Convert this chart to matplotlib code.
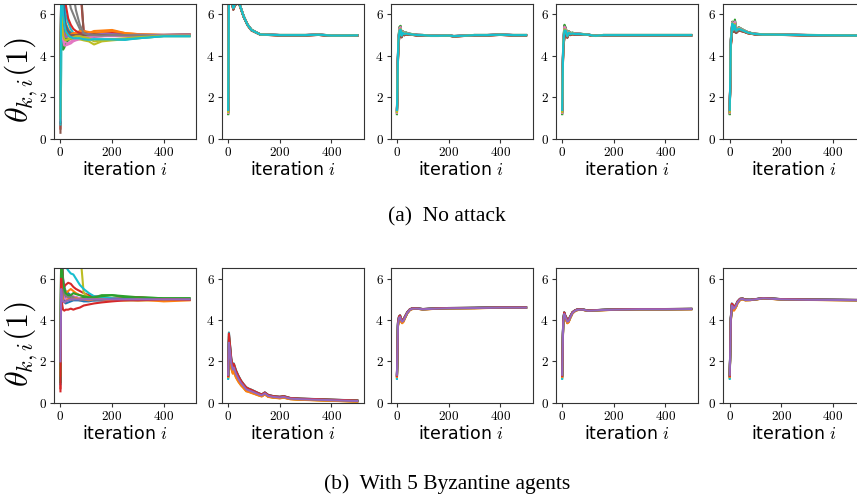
import numpy as np
import matplotlib
matplotlib.use("Agg")
import matplotlib.pyplot as plt

plt.rcParams["mathtext.fontset"] = "cm"
plt.rcParams["font.family"] = "DejaVu Sans"

colors = plt.rcParams["axes.prop_cycle"].by_key()["color"]

# ---------------------------------------------------------------- first column
# iterations at which the per-agent estimates are sampled
it_first = [0, 3, 6, 10, 15, 20, 30, 40, 50, 60, 75, 90, 110, 130, 160, 200, 250, 300, 400, 500]

# no attack, 20 agents (values above 6.5 leave the plot window)
agents_a = [
    [0.8, 8.0, 7.5, 6.8, 5.6, 5.2, 5.0, 4.9, 4.95, 5.0, 5.05, 5.0, 5.05, 5.1, 5.05, 5.0, 4.98, 5.0, 5.0, 5.0],
    [1.2, 7.0, 8.0, 7.0, 6.2, 5.6, 5.3, 5.1, 5.1, 5.05, 5.1, 5.15, 5.1, 5.2, 5.22, 5.25, 5.1, 5.05, 5.02, 5.05],
    [0.9, 6.0, 5.0, 4.3, 4.4, 4.6, 4.75, 4.85, 4.9, 4.95, 5.0, 5.0, 5.05, 5.0, 5.05, 5.1, 5.05, 5.0, 5.0, 5.02],
    [0.5, 8.0, 8.0, 8.0, 8.0, 8.0, 8.0, 8.0, 8.0, 8.0, 7.5, 5.2, 5.1, 5.05, 5.1, 5.15, 5.05, 5.0, 4.98, 5.0],
    [1.0, 7.0, 6.0, 5.0, 4.8, 4.75, 4.8, 4.85, 4.9, 5.0, 5.0, 5.05, 5.0, 5.1, 5.1, 5.05, 5.0, 5.0, 5.02, 5.05],
    [0.3, 8.0, 8.0, 8.0, 8.0, 8.0, 8.0, 8.0, 8.0, 8.0, 8.0, 5.1, 5.05, 5.0, 5.0, 5.05, 5.0, 5.0, 5.0, 5.0],
    [1.1, 6.5, 5.5, 4.7, 4.5, 4.5, 4.55, 4.6, 4.7, 4.75, 4.8, 4.85, 4.9, 4.9, 4.95, 4.95, 4.95, 4.97, 5.0, 5.0],
    [1.0, 8.0, 8.0, 8.0, 8.0, 8.0, 7.0, 6.3, 6.0, 5.7, 5.3, 5.0, 5.0, 4.95, 4.95, 5.0, 5.0, 5.0, 4.98, 4.98],
    [1.3, 7.5, 6.0, 5.2, 5.0, 4.9, 4.85, 4.8, 4.8, 4.85, 4.8, 4.75, 4.7, 4.55, 4.7, 4.75, 4.8, 4.85, 4.95, 4.95],
    [0.7, 3.3, 8.0, 7.5, 6.8, 6.0, 5.6, 5.3, 5.1, 5.0, 4.9, 4.85, 4.8, 4.8, 4.8, 4.8, 4.77, 4.85, 4.95, 4.95],
    [1.0, 8.0, 8.0, 7.0, 6.0, 5.5, 5.2, 5.1, 5.0, 5.0, 4.95, 5.0, 4.95, 4.95, 5.0, 5.0, 5.0, 5.0, 5.0, 5.0],
    [0.9, 7.5, 6.5, 5.5, 5.2, 5.0, 5.0, 5.05, 5.1, 5.1, 5.2, 5.2, 5.15, 5.1, 5.15, 5.2, 5.1, 5.05, 5.0, 5.02],
    [1.1, 8.0, 7.0, 5.8, 5.0, 4.8, 4.8, 4.85, 4.9, 4.95, 4.95, 4.95, 5.0, 5.0, 5.0, 5.0, 5.0, 5.0, 5.0, 5.0],
    [0.8, 8.0, 8.0, 8.0, 7.5, 6.5, 5.8, 5.5, 5.3, 5.2, 5.1, 5.05, 5.0, 5.0, 5.0, 5.0, 5.0, 5.0, 5.0, 5.0],
    [1.2, 7.0, 6.0, 5.3, 5.0, 4.9, 4.95, 5.0, 4.95, 4.95, 5.0, 5.05, 5.05, 5.0, 5.05, 5.05, 5.0, 5.02, 5.0, 5.0],
    [1.0, 8.0, 7.0, 6.0, 5.5, 5.3, 5.1, 5.0, 5.0, 5.0, 5.05, 5.0, 5.0, 5.05, 5.0, 5.0, 5.0, 5.0, 5.0, 5.0],
    [0.9, 6.0, 5.2, 4.8, 4.7, 4.65, 4.6, 4.7, 4.75, 4.8, 4.85, 4.9, 4.9, 4.95, 4.95, 4.97, 4.98, 5.0, 5.0, 5.0],
    [1.1, 8.0, 8.0, 8.0, 8.0, 8.0, 8.0, 8.0, 7.0, 6.2, 5.5, 5.1, 5.0, 5.0, 4.98, 5.0, 5.0, 5.0, 4.98, 4.98],
    [1.0, 7.0, 5.5, 5.0, 4.8, 4.75, 4.8, 4.85, 4.9, 4.95, 4.95, 4.9, 4.85, 4.7, 4.75, 4.8, 4.85, 4.9, 4.97, 4.97],
    [0.8, 8.0, 7.0, 6.0, 5.5, 5.2, 5.0, 4.9, 4.85, 4.85, 4.85, 4.8, 4.78, 4.8, 4.8, 4.8, 4.8, 4.85, 4.95, 4.95],
]

# with Byzantine agents, 15 normal agents
agents_b = [
    [1.0, 8.0, 7.0, 6.0, 5.6, 5.4, 5.3, 5.2, 5.1, 5.1, 5.05, 5.0, 5.0, 4.95, 5.0, 5.0, 5.0, 5.0, 5.0, 5.0],
    [1.5, 7.0, 6.5, 5.8, 5.5, 5.3, 5.4, 5.5, 5.4, 5.3, 5.2, 5.15, 5.1, 5.1, 5.05, 5.0, 5.0, 4.95, 4.95, 5.0],
    [1.2, 7.5, 6.0, 5.2, 5.0, 4.9, 5.0, 5.1, 5.0, 5.0, 5.05, 5.1, 5.15, 5.1, 5.2, 5.2, 5.15, 5.1, 5.05, 5.05],
    [0.55, 8.0, 6.5, 5.5, 5.6, 5.7, 5.8, 5.75, 5.6, 5.5, 5.4, 5.3, 5.2, 5.15, 5.1, 5.05, 5.05, 5.1, 5.0, 5.0],
    [2.0, 6.0, 5.5, 5.3, 5.2, 5.1, 5.0, 5.05, 5.1, 5.0, 5.0, 4.95, 4.95, 5.0, 5.0, 5.0, 4.98, 5.0, 5.0, 5.0],
    [1.3, 8.0, 7.0, 6.0, 5.4, 5.2, 5.1, 5.0, 5.0, 5.0, 4.95, 4.95, 4.95, 5.0, 5.0, 5.0, 5.0, 5.0, 4.98, 4.98],
    [1.6, 6.8, 5.8, 5.2, 5.0, 5.0, 5.1, 5.2, 5.15, 5.1, 5.05, 5.0, 5.0, 5.0, 5.0, 5.0, 5.0, 5.0, 5.0, 5.0],
    [1.1, 7.0, 6.2, 5.6, 5.3, 5.2, 5.1, 5.15, 5.1, 5.05, 5.0, 5.0, 5.0, 4.95, 4.95, 4.97, 5.0, 5.0, 5.0, 5.0],
    [1.4, 8.0, 8.0, 8.0, 8.0, 8.0, 8.0, 8.0, 8.0, 8.0, 7.5, 5.3, 5.1, 5.0, 5.0, 5.0, 4.95, 4.95, 4.98, 5.0],
    [1.2, 8.0, 8.0, 7.5, 7.0, 6.6, 6.4, 6.25, 6.2, 6.0, 5.7, 5.5, 5.3, 5.15, 5.1, 5.05, 5.0, 5.0, 5.0, 5.0],
    [0.9, 7.0, 6.0, 5.0, 4.9, 4.8, 4.85, 4.9, 4.95, 4.95, 4.95, 4.9, 4.9, 4.95, 4.95, 5.0, 5.0, 5.0, 5.0, 5.0],
    [1.3, 6.5, 5.5, 4.9, 4.85, 4.9, 5.0, 5.0, 5.0, 5.05, 5.0, 5.0, 4.95, 5.0, 5.0, 4.95, 4.95, 5.0, 4.9, 4.95],
    [1.0, 7.5, 6.5, 5.8, 5.5, 5.3, 5.2, 5.2, 5.3, 5.25, 5.2, 5.15, 5.1, 5.1, 5.15, 5.2, 5.1, 5.1, 5.05, 5.05],
    [0.7, 6.0, 4.8, 4.5, 4.45, 4.5, 4.5, 4.55, 4.5, 4.55, 4.6, 4.7, 4.75, 4.8, 4.85, 4.9, 4.95, 4.95, 5.0, 4.98],
    [2.0, 5.5, 5.0, 4.9, 4.85, 4.9, 4.95, 5.0, 5.0, 5.0, 5.0, 5.0, 5.0, 5.0, 5.0, 5.0, 5.0, 5.0, 5.0, 5.0],
]

# ------------------------------------------------------- consensus columns 2-5
# shared trajectory, band half-width around it, and each agent's starting value
it_a2 = [0, 3, 10, 15, 20, 25, 35, 45, 60, 75, 90, 110, 125, 150, 200, 250, 300, 350, 400, 450, 500]
val_a2 = [1.4, 6.8, 6.9, 6.6, 6.3, 6.45, 6.6, 6.45, 5.9, 5.5, 5.25, 5.12, 5.03, 5.02, 5.0, 5.0, 5.0, 5.02, 4.98, 4.98, 4.99]
hw_a2 = [0.0, 0.1, 0.1, 0.1, 0.08, 0.05, 0.04, 0.03, 0.02, 0.02, 0.02, 0.01, 0.01, 0.01, 0.01, 0.01, 0.01, 0.01, 0.01, 0.01, 0.01]

it_a3 = [0, 5, 10, 14, 18, 22, 28, 35, 45, 60, 80, 100, 130, 160, 200, 220, 260, 300, 350, 400, 450, 500]
val_a3 = [1.2, 4.6, 5.2, 5.25, 4.97, 5.12, 5.05, 5.08, 5.05, 5.03, 5.0, 5.0, 4.97, 4.97, 4.98, 4.95, 4.97, 5.0, 5.0, 5.02, 5.0, 5.0]
hw_a3 = [0.0, 0.2, 0.2, 0.2, 0.08, 0.08, 0.06, 0.05, 0.03, 0.02, 0.02, 0.01, 0.01, 0.01, 0.01, 0.01, 0.01, 0.01, 0.01, 0.01, 0.01, 0.01]

it_a4 = [0, 4, 9, 14, 20, 26, 32, 40, 50, 70, 100, 120, 130, 160, 200, 300, 400, 500]
val_a4 = [1.2, 4.5, 5.2, 5.2, 4.95, 5.12, 5.05, 5.08, 5.05, 5.05, 5.02, 4.98, 4.97, 5.0, 5.0, 5.0, 5.0, 5.0]
hw_a4 = [0.0, 0.2, 0.3, 0.15, 0.08, 0.07, 0.05, 0.04, 0.03, 0.02, 0.01, 0.01, 0.01, 0.01, 0.01, 0.01, 0.01, 0.01]

it_a5 = [0, 4, 10, 15, 20, 25, 35, 45, 55, 70, 85, 100, 130, 160, 200, 300, 400, 500]
val_a5 = [1.3, 4.6, 5.55, 5.25, 5.45, 5.2, 5.3, 5.25, 5.2, 5.12, 5.08, 5.05, 5.03, 5.03, 5.02, 5.0, 4.99, 4.98]
hw_a5 = [0.0, 0.2, 0.1, 0.1, 0.3, 0.1, 0.08, 0.06, 0.04, 0.03, 0.02, 0.02, 0.01, 0.01, 0.01, 0.01, 0.01, 0.01]

it_b2 = [0, 3, 7, 12, 18, 22, 30, 40, 50, 60, 70, 80, 90, 100, 115, 130, 142, 155, 175, 200, 215, 240, 280, 330, 400, 450, 500]
val_b2 = [1.6, 2.9, 2.5, 1.9, 1.6, 1.7, 1.4, 1.15, 0.95, 0.8, 0.65, 0.6, 0.55, 0.5, 0.42, 0.35, 0.45, 0.33, 0.28, 0.25, 0.28, 0.2, 0.17, 0.15, 0.12, 0.1, 0.08]
hw_b2 = [0.0, 0.5, 0.35, 0.25, 0.2, 0.2, 0.18, 0.15, 0.12, 0.1, 0.1, 0.08, 0.08, 0.07, 0.06, 0.05, 0.05, 0.05, 0.04, 0.04, 0.04, 0.03, 0.03, 0.03, 0.03, 0.03, 0.03]

it_b3 = [0, 4, 8, 12, 16, 20, 25, 30, 40, 50, 60, 80, 100, 150, 200, 300, 400, 500]
val_b3 = [1.2, 3.8, 4.1, 4.15, 4.0, 3.92, 3.97, 4.1, 4.35, 4.5, 4.55, 4.55, 4.52, 4.55, 4.57, 4.58, 4.6, 4.6]
hw_b3 = [0.0, 0.1, 0.08, 0.08, 0.08, 0.08, 0.06, 0.05, 0.03, 0.02, 0.02, 0.01, 0.01, 0.01, 0.01, 0.01, 0.01, 0.01]

it_b4 = [0, 4, 8, 12, 16, 20, 25, 30, 40, 50, 60, 80, 100, 150, 200, 300, 400, 500]
val_b4 = [1.2, 3.9, 4.3, 4.15, 4.05, 3.92, 3.95, 4.1, 4.35, 4.45, 4.5, 4.5, 4.45, 4.48, 4.5, 4.52, 4.52, 4.53]
hw_b4 = [0.0, 0.1, 0.08, 0.08, 0.08, 0.08, 0.06, 0.05, 0.03, 0.02, 0.02, 0.01, 0.01, 0.01, 0.01, 0.01, 0.01, 0.01]

it_b5 = [0, 4, 8, 12, 16, 20, 25, 30, 40, 50, 60, 80, 100, 130, 160, 200, 300, 400, 500]
val_b5 = [1.4, 4.0, 4.7, 4.65, 4.55, 4.6, 4.7, 4.85, 5.0, 5.02, 4.97, 4.97, 5.0, 5.05, 5.03, 5.0, 4.98, 4.97, 4.96]
hw_b5 = [0.0, 0.1, 0.1, 0.1, 0.1, 0.08, 0.06, 0.05, 0.03, 0.02, 0.02, 0.01, 0.01, 0.01, 0.01, 0.01, 0.01, 0.01, 0.01]

# starting values and place inside the band (-1 .. 1) for each agent
start_a = [1.3, 1.5, 1.2, 1.4, 1.3, 1.25, 1.45, 1.35, 1.3, 1.4, 1.35, 1.3, 1.2, 1.45, 1.3, 1.4, 1.25, 1.35, 1.3, 1.4]
place_a = [0.2, -0.4, 1.0, -0.8, 0.6, -1.0, 0.8, -0.2, -0.6, 0.0, 0.4, -0.3, 0.9, -0.7, 0.5, -0.9, 0.7, -0.1, 0.3, 0.1]
start_b = [1.4, 1.2, 1.3, 1.25, 1.35, 1.3, 1.4, 1.3, 1.2, 1.15, 1.3, 1.25, 1.35, 1.3, 1.35]
place_b = [0.3, -1.0, 0.1, 0.8, -0.3, -0.5, 0.4, -0.1, -0.7, 1.0, 0.2, -0.8, 0.6, 0.9, 0.0]

x_ticks = [0, 200, 400]
y_ticks = [0, 2, 4, 6]

row_a = [(it_a2, val_a2, hw_a2), (it_a3, val_a3, hw_a3), (it_a4, val_a4, hw_a4), (it_a5, val_a5, hw_a5)]
row_b = [(it_b2, val_b2, hw_b2), (it_b3, val_b3, hw_b3), (it_b4, val_b4, hw_b4), (it_b5, val_b5, hw_b5)]

W, H = 857, 498
fig = plt.figure(figsize=(W / 100, H / 100), dpi=100)

lefts = [54, 221.7, 390.5, 555.7, 723.3]
width = 142
rows = [(4, 139), (268.3, 402.7)]


def style(ax, first):
    ax.set_xlim(-25, 525)
    ax.set_ylim(0, 6.5)
    ax.set_xticks(x_ticks)
    ax.set_xticklabels([f"${t}$" for t in x_ticks])
    ax.set_yticks(y_ticks)
    ax.set_yticklabels([f"${t}$" for t in y_ticks])
    ax.tick_params(labelsize=9.5, color="#333333", length=3, pad=2)
    for s in ax.spines.values():
        s.set_color("#333333")
    ax.set_xlabel("iteration $i$", fontsize=12.5, labelpad=1.5)
    if first:
        ax.set_ylabel(r"$\theta_{k,i}(1)$", fontsize=23)
        ax.yaxis.set_label_coords(-0.1, 0.44)


for r, (top, bottom) in enumerate(rows):
    first_agents = agents_a if r == 0 else agents_b
    consensus = row_a if r == 0 else row_b
    starts = start_a if r == 0 else start_b
    places = place_a if r == 0 else place_b
    for c in range(5):
        ax = fig.add_axes([lefts[c] / W, 1 - bottom / H, width / W, (bottom - top) / H])
        if c == 0:
            for k, vals in enumerate(first_agents):
                ax.plot(it_first, vals, color=colors[k % 10], lw=1.5)
        else:
            its, vals, hw = consensus[c - 1]
            vals = np.array(vals)
            hw = np.array(hw)
            for k in range(len(starts)):
                y = vals + places[k] * hw
                y[0] = starts[k]
                ax.plot(its, y, color=colors[k % 10], lw=1.5)
        style(ax, c == 0)

fig.text(447 / W, 1 - 217 / H, "(a)  No attack", family="Liberation Serif",
         fontsize=15.5, ha="center", va="center")
fig.text(447 / W, 1 - 484 / H, "(b)  With 5 Byzantine agents", family="Liberation Serif",
         fontsize=15.5, ha="center", va="center")

fig.savefig("out.png", dpi=100)
